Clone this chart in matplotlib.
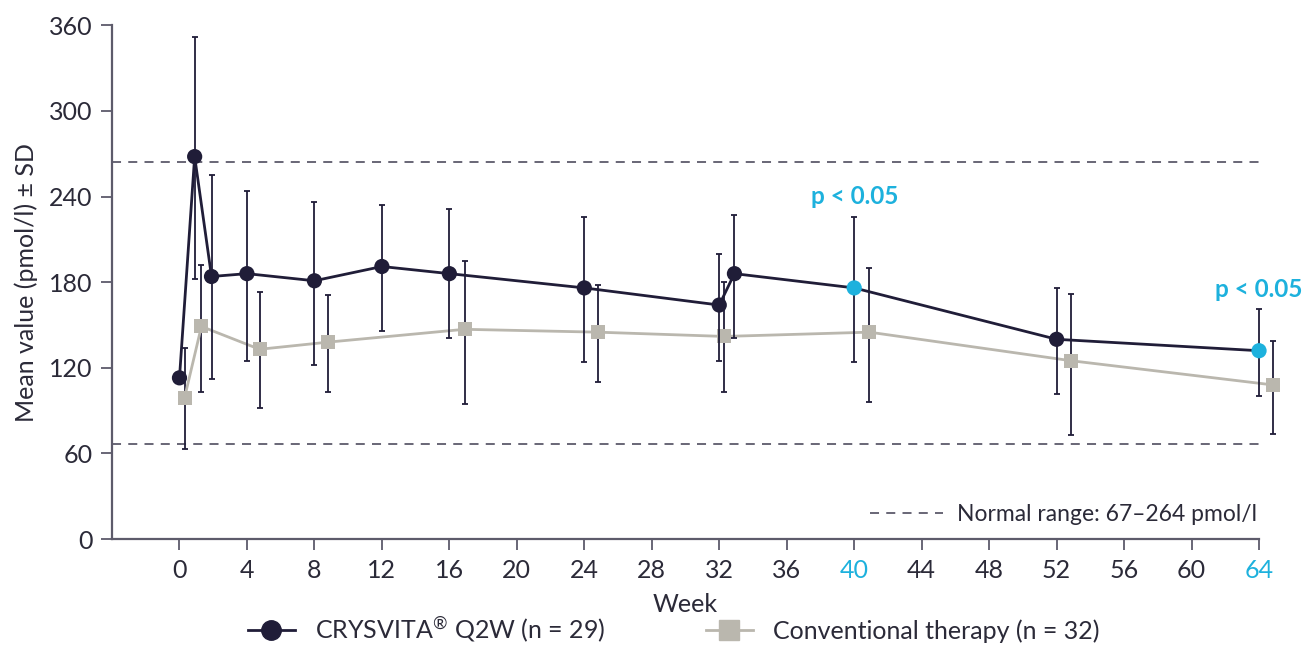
import matplotlib
matplotlib.use("Agg")
import matplotlib.pyplot as plt
import numpy as np

plt.rcParams["font.family"] = ["Lato", "DejaVu Sans"]

# CRYSVITA Q2W, mean and SD bounds
crys_week = [0, 0.9, 1.9, 4, 8, 12, 16, 24, 32, 32.9, 40, 52, 64]
crys_mean = [113, 268, 184, 186, 181, 191, 186, 176, 164, 186, 176, 140, 132]
crys_high = [113, 352, 255, 244, 236, 234, 231, 226, 200, 227, 226, 176, 161]
crys_low = [113, 182, 112, 125, 122, 146, 141, 124, 125, 141, 124, 102, 100]
crys_signif = [False] * 10 + [True, False, True]

# conventional therapy
conv_week = [0.3, 1.3, 4.75, 8.8, 16.9, 24.8, 32.3, 40.9, 52.85, 64.85]
conv_mean = [99, 149, 133, 138, 147, 145, 142, 145, 125, 108]
conv_high = [134, 192, 173, 171, 195, 178, 180, 190, 172, 139]
conv_low = [63, 103, 92, 103, 95, 110, 103, 96, 73, 74]

normal_range = (67, 264)
x_ticks = list(range(0, 65, 4))
y_ticks = list(range(0, 361, 60))
signif_weeks = [40, 64]

NAVY = "#201d38"
GREY = "#bab7ae"
BLUE = "#1db1dd"
AXIS = "#5d5b6b"
TEXT = "#2b2a38"

fig = plt.figure(figsize=(13.13, 6.48), dpi=100)
ax = fig.add_axes([0.0853, 0.168, 0.8736, 0.793])

ax.axhline(normal_range[0], color=AXIS, lw=1.3, ls=(0, (5, 4)),
           label="Normal range: 67\u2013264 pmol/l", zorder=1)
ax.axhline(normal_range[1], color=AXIS, lw=1.3, ls=(0, (5, 4)), zorder=1)


def draw_series(week, mean, low, high, color, zo):
    mean = np.array(mean)
    yerr = [mean - np.array(low), np.array(high) - mean]
    ax.errorbar(week, mean, yerr=yerr, fmt="none", ecolor=NAVY, elinewidth=1.3,
                capsize=2.5, capthick=1.3, zorder=zo, clip_on=False)
    ax.plot(week, mean, color=color, lw=2, zorder=zo + 1, clip_on=False)


draw_series(conv_week, conv_mean, conv_low, conv_high, GREY, 2)
ax.scatter(conv_week, conv_mean, marker="s", s=115, color=GREY, zorder=4,
           clip_on=False, linewidths=0)

draw_series(crys_week, crys_mean, crys_low, crys_high, NAVY, 5)
colors = [BLUE if s else NAVY for s in crys_signif]
ax.scatter(crys_week, crys_mean, marker="o", s=120, color=colors, zorder=7,
           clip_on=False, linewidths=0)

for w in signif_weeks:
    i = crys_week.index(w)
    ax.text(w, crys_high[i] + 6, "p < 0.05", color=BLUE, fontsize=17.5,
            fontweight="bold", ha="center", va="bottom")

ax.set_xlim(-4, 64)
ax.set_ylim(0, 360)
ax.set_xticks(x_ticks)
ax.set_yticks(y_ticks)
for s in ["top", "right"]:
    ax.spines[s].set_visible(False)
for s in ["left", "bottom"]:
    ax.spines[s].set_color(AXIS)
    ax.spines[s].set_linewidth(1.6)
ax.tick_params(direction="out", length=8, width=1.3, color=AXIS,
               labelsize=18, labelcolor=TEXT, pad=6)
for lbl in ax.get_xticklabels():
    if int(lbl.get_text()) in signif_weeks:
        lbl.set_color(BLUE)

ax.set_xlabel("Week", fontsize=18, color=TEXT, labelpad=8)
ax.set_ylabel("Mean value (pmol/l) \u00b1 SD", fontsize=18, color=TEXT, labelpad=8)

leg = ax.legend(loc="lower right", bbox_to_anchor=(1.01, 0), frameon=False,
                fontsize=16.5, handlelength=3.2, handletextpad=0.6,
                borderaxespad=0.2, labelcolor=TEXT)

h1, = ax.plot([], [], color=NAVY, lw=2, marker="o", ms=14)
h2, = ax.plot([], [], color=GREY, lw=2, marker="s", ms=14)
fig.legend([h1, h2],
           ["CRYSVITA$^{\\mathregular{\u00ae}}$ Q2W (n = 29)",
            "Conventional therapy (n = 32)"],
           loc="lower center", bbox_to_anchor=(0.513, -0.03), ncol=2, frameon=False,
           handlelength=1.9, handletextpad=0.8, columnspacing=4,
           labelcolor=TEXT, fontsize=18)

fig.savefig("out.png", dpi=100)
